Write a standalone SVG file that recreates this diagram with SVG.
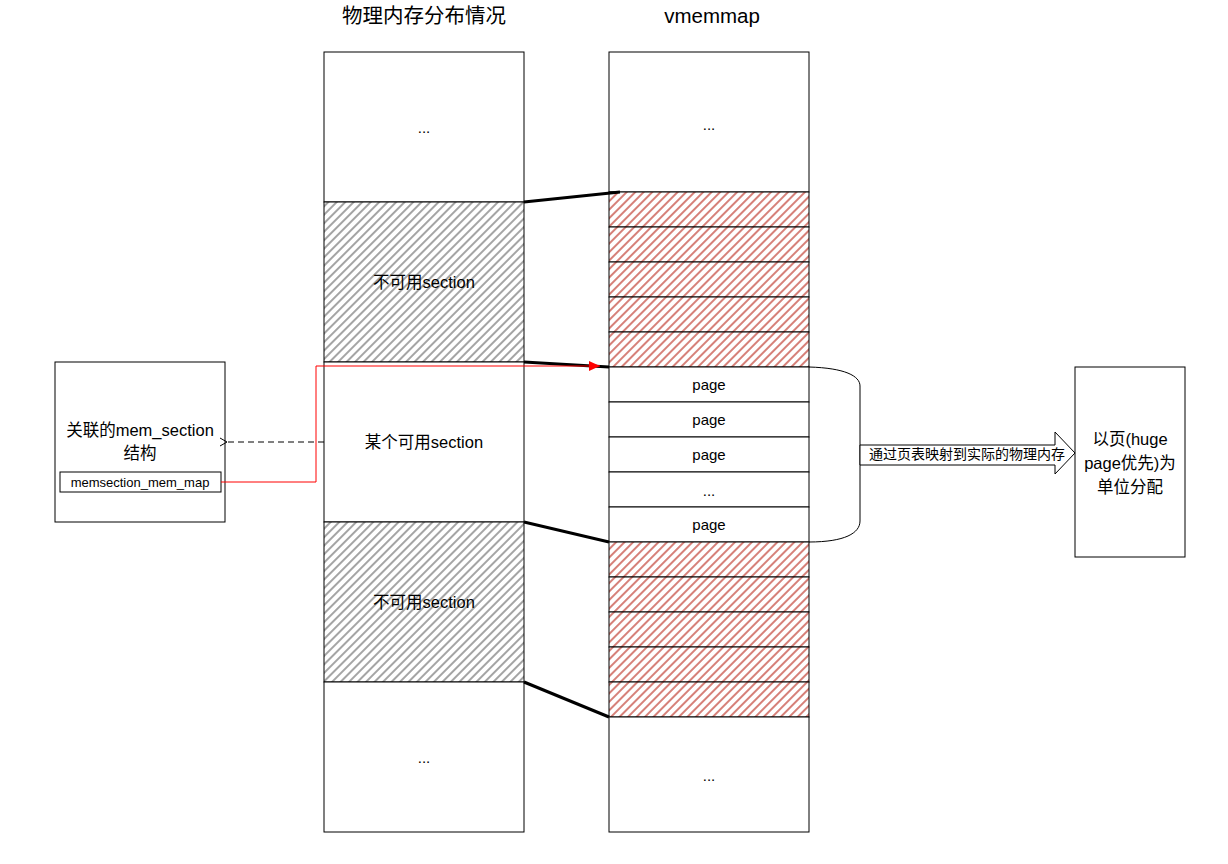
<svg xmlns="http://www.w3.org/2000/svg" width="1228" height="864" viewBox="0 0 1228 864">
<style>
text{font-family:"Liberation Sans","Noto Sans CJK SC",sans-serif;fill:#000;text-anchor:middle}
.t{font-size:15px}
.m{font-size:16.5px}
.h{font-size:20.5px}
.s{font-size:13px}
.a{font-size:14px}
.box{fill:#fff;stroke:#000;stroke-width:1}
.gh{fill:url(#grayHatch);stroke:#000;stroke-width:1}
.rh{fill:url(#redHatch);stroke:#000;stroke-width:1}
.thick{stroke:#000;stroke-width:3;fill:none}
</style>
<defs>
<pattern id="grayHatch" patternUnits="userSpaceOnUse" width="6" height="6" patternTransform="rotate(45)">
<rect width="6" height="6" fill="#fff"/>
<line x1="3" y1="0" x2="3" y2="6" stroke="#a0a0a0" stroke-width="1.9"/>
</pattern>
<pattern id="redHatch" patternUnits="userSpaceOnUse" width="6" height="6" patternTransform="rotate(45)">
<rect width="6" height="6" fill="#fff"/>
<line x1="3" y1="0" x2="3" y2="6" stroke="#d47a72" stroke-width="1.9"/>
</pattern>
<marker id="openArrow" markerWidth="10" markerHeight="10" refX="1" refY="5" orient="auto" markerUnits="userSpaceOnUse">
<path d="M8,1 L1,5 L8,9" fill="none" stroke="#000" stroke-width="1"/>
</marker>
<marker id="redArrow" markerWidth="12" markerHeight="10" refX="11" refY="5" orient="auto" markerUnits="userSpaceOnUse">
<path d="M0,0 L11,5 L0,10 Z" fill="#f00"/>
</marker>
</defs>

<text class="h" x="424" y="23">物理内存分布情况</text>
<text class="h" x="712" y="23">vmemmap</text>

<g id="phys">
<rect class="box" x="324" y="52" width="200" height="150"/>
<text class="t" x="424" y="133">...</text>
<rect class="gh" x="324" y="202" width="200" height="160"/>
<text class="m" x="424" y="288">不可用section</text>
<rect class="box" x="324" y="362" width="200" height="160"/>
<text class="m" x="424" y="448">某个可用section</text>
<rect class="gh" x="324" y="522" width="200" height="160"/>
<text class="m" x="424" y="608">不可用section</text>
<rect class="box" x="324" y="682" width="200" height="150"/>
<text class="t" x="424" y="763">...</text>
</g>

<g id="vmemmap">
<rect class="box" x="609" y="52" width="200" height="140"/>
<text class="t" x="709" y="130">...</text>
<rect class="rh" x="609" y="192" width="200" height="35"/>
<rect class="rh" x="609" y="227" width="200" height="35"/>
<rect class="rh" x="609" y="262" width="200" height="35"/>
<rect class="rh" x="609" y="297" width="200" height="35"/>
<rect class="rh" x="609" y="332" width="200" height="35"/>
<rect class="box" x="609" y="367" width="200" height="35"/>
<text class="t" x="709" y="390">page</text>
<rect class="box" x="609" y="402" width="200" height="35"/>
<text class="t" x="709" y="425">page</text>
<rect class="box" x="609" y="437" width="200" height="35"/>
<text class="t" x="709" y="460">page</text>
<rect class="box" x="609" y="472" width="200" height="35"/>
<text class="t" x="709" y="496">...</text>
<rect class="box" x="609" y="507" width="200" height="35"/>
<text class="t" x="709" y="530">page</text>
<rect class="rh" x="609" y="542" width="200" height="35"/>
<rect class="rh" x="609" y="577" width="200" height="35"/>
<rect class="rh" x="609" y="612" width="200" height="35"/>
<rect class="rh" x="609" y="647" width="200" height="35"/>
<rect class="rh" x="609" y="682" width="200" height="35"/>
<rect class="box" x="609" y="717" width="200" height="115"/>
<text class="t" x="709" y="781">...</text>
</g>

<g id="memsection">
<rect class="box" x="55" y="362" width="170" height="160"/>
<text class="m" x="140" y="436">关联的mem_section</text>
<text class="m" x="140" y="459">结构</text>
<rect class="box" x="60" y="472" width="161" height="20"/>
<text class="s" x="140" y="487">memsection_mem_map</text>
</g>

<g id="alloc">
<rect class="box" x="1075" y="367" width="110" height="190"/>
<text class="m" x="1130" y="445">以页(huge</text>
<text class="m" x="1130" y="469">page优先)为</text>
<text class="m" x="1130" y="493">单位分配</text>
</g>

<g id="connectors">
<line class="thick" x1="524" y1="202" x2="620" y2="192"/>
<line class="thick" x1="524" y1="362" x2="609" y2="367"/>
<line class="thick" x1="524" y1="522" x2="609" y2="542"/>
<line class="thick" x1="524" y1="682" x2="609" y2="717"/>
<line x1="324" y1="442" x2="227" y2="442" stroke="#000" stroke-width="1" stroke-dasharray="6,4" marker-end="url(#openArrow)"/>
<polyline points="221,482 316,482 316,366 600,366" fill="none" stroke="#f00" stroke-width="1" marker-end="url(#redArrow)"/>
<path d="M809,367 C845,368 860,376 860,386 V521 C860,533 845,542 809,542" fill="none" stroke="#000" stroke-width="1"/>
<path d="M860,445 H1055 V432 L1075,453 L1055,474 V465 H860 Z" fill="#fff" stroke="#000" stroke-width="1"/>
<text class="a" x="967" y="459">通过页表映射到实际的物理内存</text>
</g>
</svg>
